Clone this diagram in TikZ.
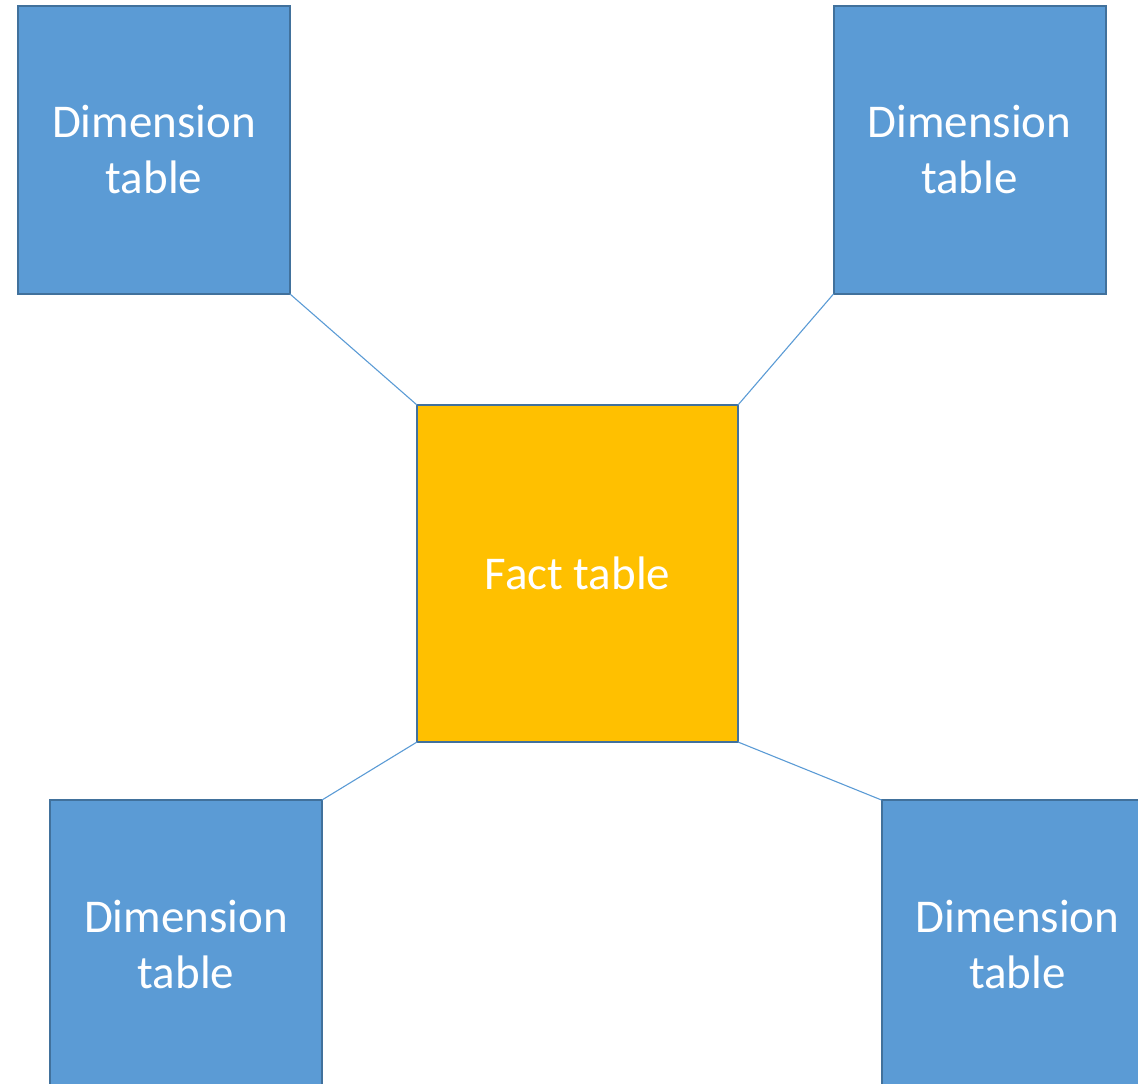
\documentclass[tikz,border=0pt]{standalone}
\usepackage{fontspec}
\setmainfont{Carlito}
\definecolor{dimfill}{HTML}{5B9BD5}
\definecolor{dimline}{HTML}{41719C}
\definecolor{factfill}{HTML}{FFC000}
\definecolor{linkline}{HTML}{5B9BD5}
\begin{document}
\begin{tikzpicture}[x=1pt,y=-1pt,
  tablebox/.style={rectangle,draw=dimline,line width=2pt,inner sep=0pt,outer sep=0pt,
    text=white,align=center,font=\fontsize{47}{56}\selectfont},
  dimbox/.style={tablebox,fill=dimfill,minimum width=272pt,minimum height=288pt},
  factbox/.style={tablebox,fill=factfill,minimum width=321pt,minimum height=337pt},
  link/.style={draw=linkline,line width=1.1pt}]
\useasboundingbox (0,0) rectangle (1138,1084);
\clip (0,0) rectangle (1138,1084);
% the fact table in the middle
\node[factbox] (fact) at (577.5,573.5) {Fact table};
% dimension tables around it
\node[dimbox] (dimtl) at (154,150) {Dimension\\table};
\node[dimbox] (dimtr) at (969.5,150) {Dimension\\table};
\node[dimbox] (dimbl) at (186,944) {Dimension\\table};
\node[dimbox] (dimbr) at (1017.5,944) {Dimension\\table};
% connectors, corner to corner
\draw[link] (dimtl.south east) -- (fact.north west);
\draw[link] (dimtr.south west) -- (fact.north east);
\draw[link] (fact.south west) -- (dimbl.north east);
\draw[link] (fact.south east) -- (dimbr.north west);
\end{tikzpicture}
\end{document}
